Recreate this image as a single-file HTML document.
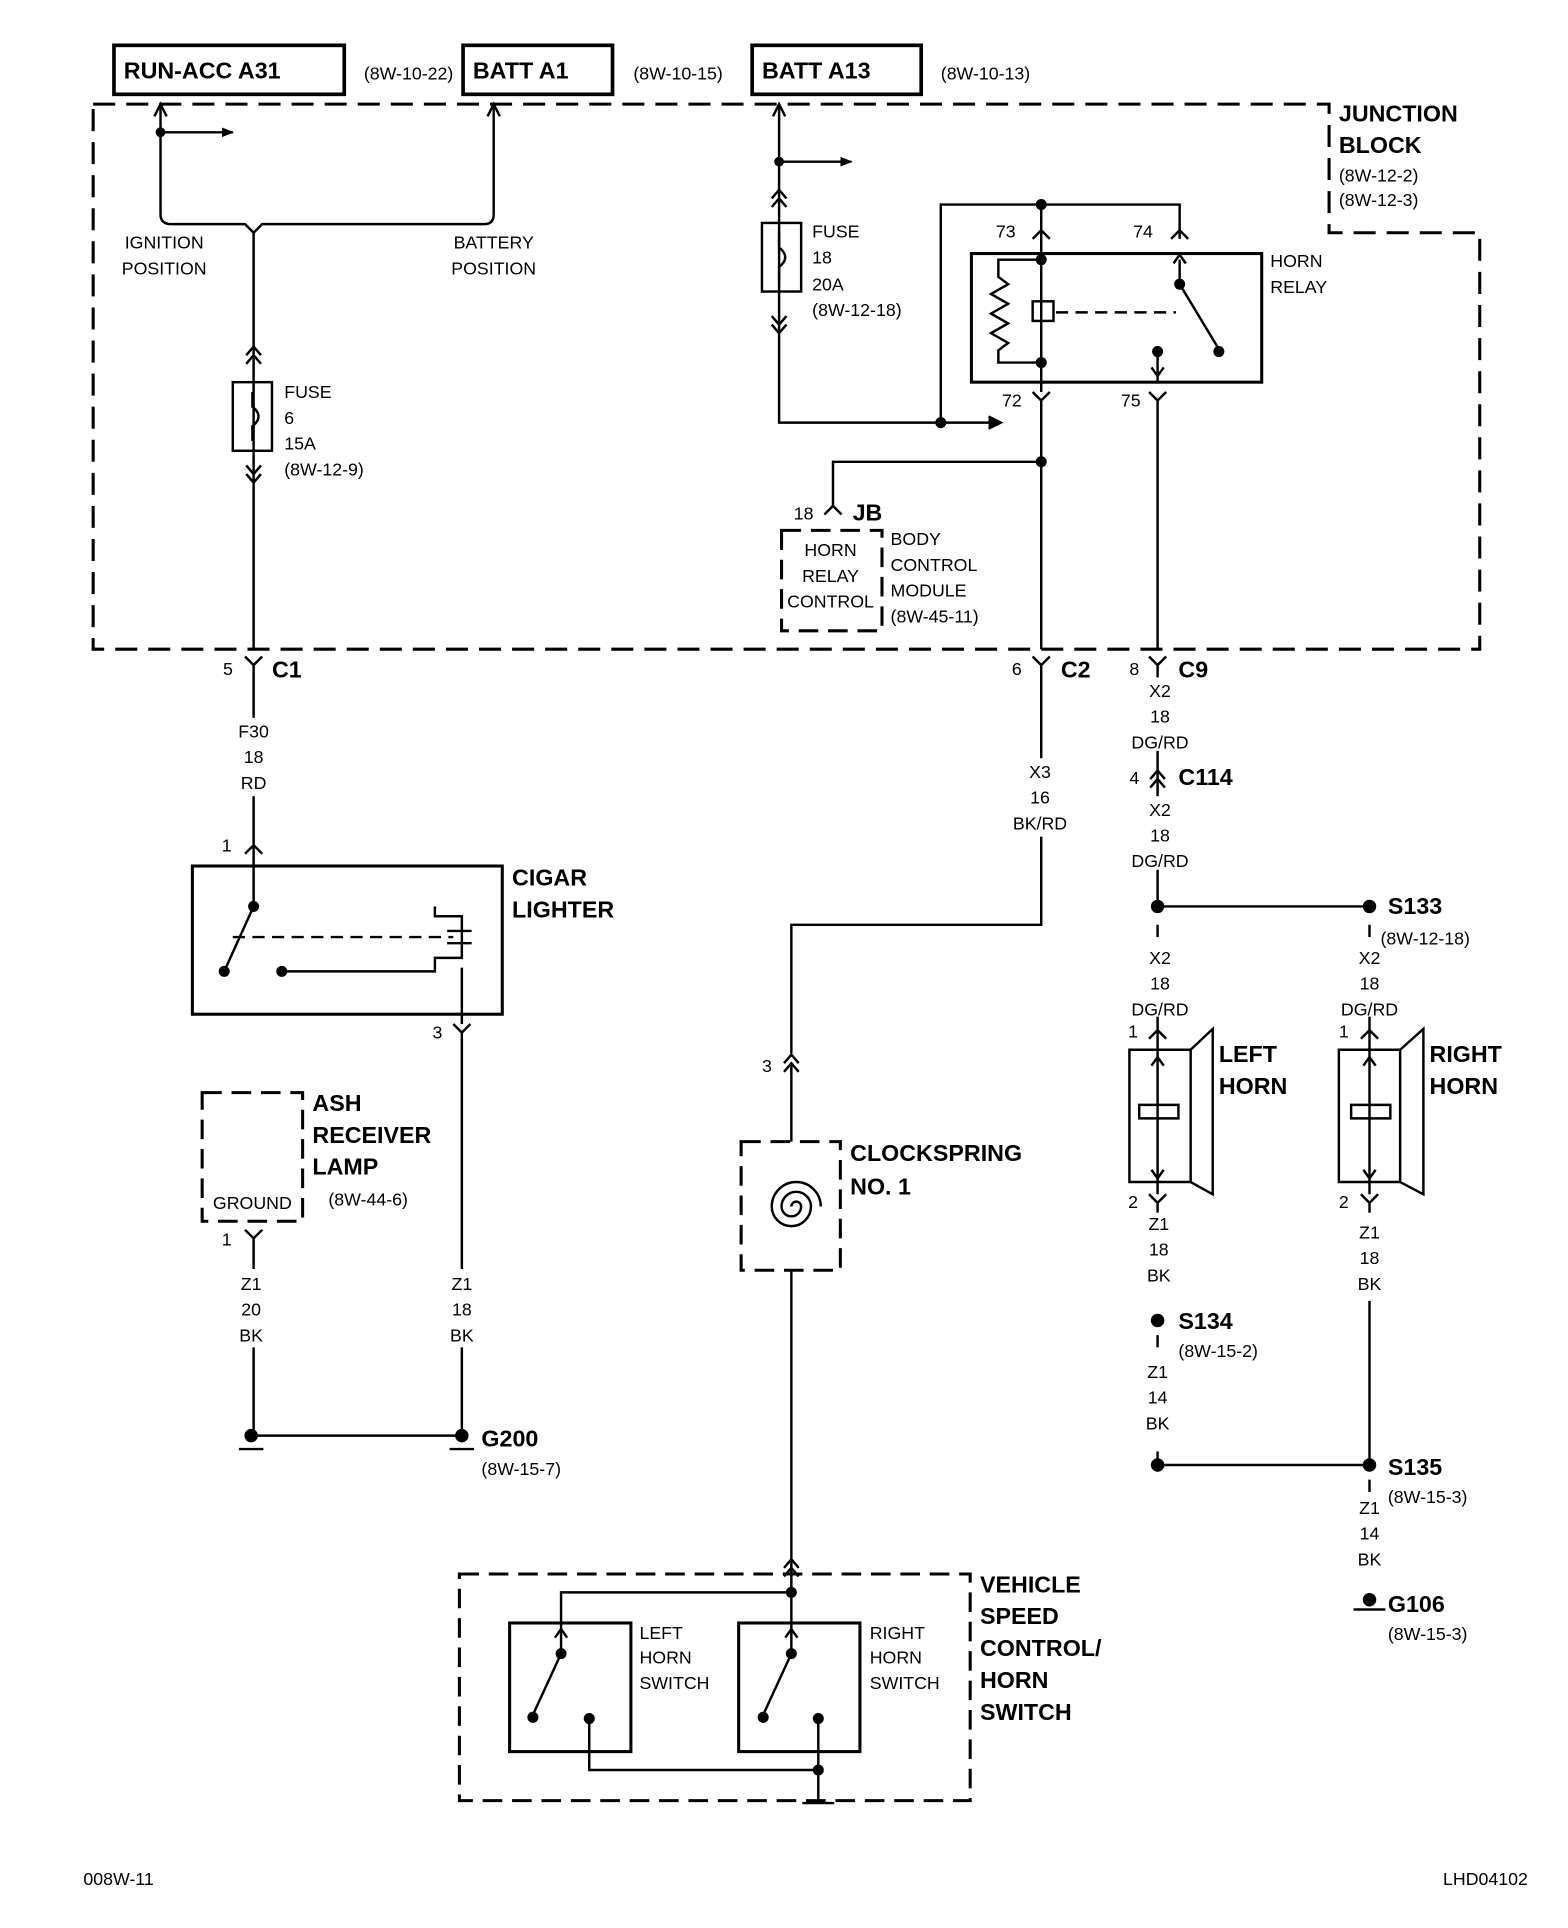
<!DOCTYPE html>
<html><head><meta charset="utf-8"><style>
html,body{margin:0;padding:0;background:#fff}
svg{display:block}
text{font-family:"Liberation Sans",sans-serif;fill:#000}
.s{font-size:14.5px}
.b{font-size:19px;font-weight:bold}
</style></head><body>
<svg width="1568" height="1928" viewBox="0 0 1280 1574" xmlns="http://www.w3.org/2000/svg">
<defs>
<marker id="ar" markerWidth="10" markerHeight="8" refX="9" refY="4" orient="auto" markerUnits="userSpaceOnUse"><path d="M0,0L10,4L0,8z" fill="#000"/></marker>
</defs>
<g stroke="#000" stroke-width="2" fill="none">
<rect x="93" y="37" width="188" height="40" stroke-width="3"/>
<rect x="378" y="37" width="122" height="40" stroke-width="3"/>
<rect x="614" y="37" width="138" height="40" stroke-width="3"/>
<path d="M76,85H1085V190H1208V530H76Z" stroke-dasharray="18,9" stroke-width="2.5"/>
<path d="M131,85V175"/><path d="M126,95L131,85L136,95"/>
<path d="M131,108H190" marker-end="url(#ar)"/>
<path d="M403,85V175"/><path d="M398,95L403,85L408,95"/>
<path d="M131,175Q131,183 140,183H200L207,190L214,183H395Q403,183 403,175"/>
<path d="M207,190V530"/>
<path d="M201,290L207,283L213,290M201,297L207,290L213,297"/>
<rect x="190" y="312" width="32" height="56"/>
<path d="M206,320V332Q216,340 206,348V360"/>
<path d="M201,380L207,387L213,380M201,387L207,394L213,387"/>
<path d="M200,536L207,543L214,536M207,543V690"/>
<path d="M200,697L207,690L214,697M207,690V740"/>
<rect x="157" y="707" width="253" height="121" stroke-width="2.5"/>
<path d="M207,740L183,793"/>
<path d="M230,793H355V782H377V748H355V740"/>
<path d="M190,765H370" stroke-dasharray="10,6"/>
<path d="M365,760H385M365,770H385"/>
<path d="M377,790V836"/>
<path d="M370,836L377,843L384,836M377,843V1172"/>
<rect x="165" y="892" width="82" height="105" stroke-dasharray="16,8" stroke-width="2.5"/>
<path d="M200,1004L207,1011L214,1004M207,1011V1172"/>
<path d="M205,1172H377"/>
<path d="M195,1183H215M367,1183H387"/>
<path d="M636,85V345H815" /><path d="M631,95L636,85L641,95"/>
<path d="M636,132H695" marker-end="url(#ar)"/>
<path d="M807,340L817,345L807,350" fill="#000"/>
<path d="M630,162L636,155L642,162M630,169L636,162L642,169"/>
<rect x="622" y="182" width="32" height="56"/>
<path d="M636,190V202Q646,210 636,218V230"/>
<path d="M630,258L636,265L642,258M630,265L636,272L642,265"/>
<path d="M768,345V167H963V195"/>
<path d="M843,195L850,188L857,195M850,167V320"/>
<path d="M956,195L963,188L970,195"/>
<rect x="793" y="207" width="237" height="105" stroke-width="2.5"/>
<path d="M850,212H815V226L823,232L809,240L823,248L809,256L823,264L809,272L823,280L815,286V296H850"/>
<rect x="843" y="246" width="17" height="16"/>
<path d="M862,255H960" stroke-dasharray="10,6"/>
<path d="M963,212V232L995,285"/>
<path d="M958,215L963,208L968,215"/>
<path d="M945,285V312"/><path d="M940,300L945,307L950,300"/>
<path d="M843,320L850,327L857,320M850,327V530"/>
<path d="M938,320L945,327L952,320M945,327V530"/>
<path d="M850,377H680V413"/>
<path d="M673,420L680,413L687,420"/>
<rect x="638" y="433" width="82" height="82" stroke-dasharray="16,8" stroke-width="2.5"/>
<path d="M843,536L850,543L857,536M850,543V755H646V860"/>
<path d="M640,868L646,861L652,868M640,875L646,868L652,875M646,868V932"/>
<rect x="605" y="932" width="81" height="105" stroke-dasharray="16,8" stroke-width="2.5"/>
<path d="M646,985a4,4 0 0 1 8,0a8,8 0 0 1 -16,0a12,12 0 0 1 24,0a16,16 0 0 1 -32,0a20,20 0 0 1 40,0"/>
<path d="M646,1037V1300"/>
<path d="M640,1280L646,1273L652,1280M640,1287L646,1280L652,1287"/>
<rect x="375" y="1285" width="417" height="185" stroke-dasharray="16,8" stroke-width="2.5"/>
<path d="M646,1300H458V1350L435,1400"/>
<path d="M453,1337L458,1330L463,1337"/>
<path d="M646,1300V1350L623,1400"/>
<path d="M641,1337L646,1330L651,1337"/>
<rect x="416" y="1325" width="99" height="105" stroke-width="2.5"/>
<rect x="603" y="1325" width="99" height="105" stroke-width="2.5"/>
<path d="M481,1403V1445H668V1403M668,1445V1470"/>
<path d="M655,1472H681"/>
<path d="M938,536L945,543L952,536M945,543V740"/>
<path d="M939,636L945,629L951,636M939,643L945,636L951,643"/>
<path d="M945,740H1118"/>
<path d="M945,755V765"/>
<path d="M1118,755V765"/>
<path d="M945,830V857M938,848L945,841L952,848"/>
<path d="M922,857H972V965H922Z"/>
<path d="M972,857L990,840V975L972,965"/>
<path d="M945,857V975M930,902H962V913H930Z"/>
<path d="M940,870L945,863L950,870M940,955L945,962L950,955"/>
<path d="M938,975L945,982L952,975M945,982V990"/>
<path d="M945,1090V1100M945,1185V1196H1118"/>
<path d="M1118,830V857M1111,848L1118,841L1125,848"/>
<path d="M1093,857H1143V965H1093Z"/>
<path d="M1143,857L1162,840V975L1143,965"/>
<path d="M1118,857V975M1103,902H1135V913H1103Z"/>
<path d="M1113,870L1118,863L1123,870M1113,955L1118,962L1123,955"/>
<path d="M1111,975L1118,982L1125,975M1118,982V990"/>
<path d="M1118,1062V1196M1118,1208V1218"/>
<path d="M1105,1314H1131"/>
</g>
<!-- label background gaps -->
<g fill="#fff">
<rect x="188" y="586" width="38" height="64"/>
<rect x="190" y="1036" width="32" height="64"/>
<rect x="362" y="1036" width="32" height="64"/>
<rect x="822" y="619" width="56" height="64"/>
<rect x="918" y="553" width="58" height="60"/>
<rect x="918" y="650" width="58" height="60"/>
</g>
<g fill="#000">
<circle cx="131" cy="108" r="4"/><circle cx="636" cy="132" r="4"/>
<circle cx="207" cy="740" r="4.5"/><circle cx="183" cy="793" r="4.5"/><circle cx="230" cy="793" r="4.5"/>
<circle cx="205" cy="1172" r="5.5"/><circle cx="377" cy="1172" r="5.5"/>
<circle cx="768" cy="345" r="4.5"/><circle cx="850" cy="167" r="4.5"/><circle cx="850" cy="212" r="4.5"/><circle cx="850" cy="296" r="4.5"/>
<circle cx="963" cy="232" r="4.5"/><circle cx="995" cy="287" r="4.5"/><circle cx="945" cy="287" r="4.5"/><circle cx="850" cy="377" r="4.5"/>
<circle cx="646" cy="1300" r="4.5"/><circle cx="458" cy="1350" r="4.5"/><circle cx="435" cy="1402" r="4.5"/><circle cx="481" cy="1403" r="4.5"/>
<circle cx="646" cy="1350" r="4.5"/><circle cx="623" cy="1402" r="4.5"/><circle cx="668" cy="1403" r="4.5"/><circle cx="668" cy="1445" r="4.5"/>
<circle cx="945" cy="740" r="5.5"/><circle cx="1118" cy="740" r="5.5"/>
<circle cx="945" cy="1078" r="5.5"/><circle cx="945" cy="1196" r="5.5"/><circle cx="1118" cy="1196" r="5.5"/><circle cx="1118" cy="1306" r="5.5"/>
</g>
<text class="b" x="101" y="64">RUN-ACC A31</text>
<text class="b" x="386" y="64">BATT A1</text>
<text class="b" x="622" y="64">BATT A13</text>
<text class="s" x="297" y="65">(8W-10-22)</text>
<text class="s" x="517" y="65">(8W-10-15)</text>
<text class="s" x="768" y="65">(8W-10-13)</text>
<text class="b" x="1093" y="99">JUNCTION</text>
<text class="b" x="1093" y="125">BLOCK</text>
<text class="s" x="1093" y="148">(8W-12-2)</text>
<text class="s" x="1093" y="168">(8W-12-3)</text>
<g class="s" text-anchor="middle">
<text x="134" y="203">IGNITION</text><text x="134" y="224">POSITION</text>
<text x="403" y="203">BATTERY</text><text x="403" y="224">POSITION</text>
<text x="678" y="454">HORN</text><text x="678" y="475">RELAY</text><text x="678" y="496">CONTROL</text>
<text x="206" y="987">GROUND</text>
<text x="207" y="602">F30</text><text x="207" y="623">18</text><text x="207" y="644">RD</text>
<text x="205" y="1053">Z1</text><text x="205" y="1074">20</text><text x="205" y="1095">BK</text>
<text x="377" y="1053">Z1</text><text x="377" y="1074">18</text><text x="377" y="1095">BK</text>
<text x="849" y="635">X3</text><text x="849" y="656">16</text><text x="849" y="677">BK/RD</text>
<text x="947" y="569">X2</text><text x="947" y="590">18</text><text x="947" y="611">DG/RD</text>
<text x="947" y="666">X2</text><text x="947" y="687">18</text><text x="947" y="708">DG/RD</text>
<text x="947" y="787">X2</text><text x="947" y="808">18</text><text x="947" y="829">DG/RD</text>
<text x="1118" y="787">X2</text><text x="1118" y="808">18</text><text x="1118" y="829">DG/RD</text>
<text x="946" y="1004">Z1</text><text x="946" y="1025">18</text><text x="946" y="1046">BK</text>
<text x="945" y="1125">Z1</text><text x="945" y="1146">14</text><text x="945" y="1167">BK</text>
<text x="1118" y="1011">Z1</text><text x="1118" y="1032">18</text><text x="1118" y="1053">BK</text>
<text x="1118" y="1236">Z1</text><text x="1118" y="1257">14</text><text x="1118" y="1278">BK</text>
</g>
<g class="s">
<text x="232" y="325">FUSE</text><text x="232" y="346">6</text><text x="232" y="367">15A</text><text x="232" y="388">(8W-12-9)</text>
<text x="663" y="194">FUSE</text><text x="663" y="215">18</text><text x="663" y="237">20A</text><text x="663" y="258">(8W-12-18)</text>
<text x="813" y="194">73</text><text x="925" y="194">74</text><text x="818" y="332">72</text><text x="915" y="332">75</text>
<text x="1037" y="218">HORN</text><text x="1037" y="239">RELAY</text>
<text x="648" y="424">18</text>
<text x="727" y="445">BODY</text><text x="727" y="466">CONTROL</text><text x="727" y="487">MODULE</text><text x="727" y="508">(8W-45-11)</text>
<text x="182" y="551">5</text><text x="826" y="551">6</text><text x="922" y="551">8</text><text x="922" y="640">4</text>
<text x="181" y="695">1</text><text x="353" y="848">3</text><text x="181" y="1017">1</text><text x="622" y="875">3</text>
<text x="921" y="847">1</text><text x="921" y="986">2</text><text x="1093" y="847">1</text><text x="1093" y="986">2</text>
<text x="268" y="984">(8W-44-6)</text>
<text x="393" y="1204">(8W-15-7)</text>
<text x="522" y="1338">LEFT</text><text x="522" y="1358">HORN</text><text x="522" y="1379">SWITCH</text>
<text x="710" y="1338">RIGHT</text><text x="710" y="1358">HORN</text><text x="710" y="1379">SWITCH</text>
<text x="1127" y="771">(8W-12-18)</text>
<text x="962" y="1108">(8W-15-2)</text>
<text x="1133" y="1227">(8W-15-3)</text>
<text x="1133" y="1339">(8W-15-3)</text>
<text x="68" y="1539">008W-11</text><text x="1178" y="1539">LHD04102</text>
</g>
<g class="b">
<text x="222" y="553">C1</text><text x="866" y="553">C2</text><text x="962" y="553">C9</text><text x="962" y="641">C114</text>
<text x="696" y="425">JB</text>
<text x="418" y="723">CIGAR</text><text x="418" y="749">LIGHTER</text>
<text x="255" y="907">ASH</text><text x="255" y="933">RECEIVER</text><text x="255" y="959">LAMP</text>
<text x="393" y="1181">G200</text>
<text x="694" y="948">CLOCKSPRING</text><text x="694" y="975">NO. 1</text>
<text x="800" y="1300">VEHICLE</text><text x="800" y="1326">SPEED</text><text x="800" y="1352">CONTROL/</text><text x="800" y="1378">HORN</text><text x="800" y="1404">SWITCH</text>
<text x="1133" y="746">S133</text>
<text x="995" y="867">LEFT</text><text x="995" y="893">HORN</text>
<text x="1167" y="867">RIGHT</text><text x="1167" y="893">HORN</text>
<text x="962" y="1085">S134</text><text x="1133" y="1204">S135</text><text x="1133" y="1316">G106</text>
</g>
</svg>
</body></html>
